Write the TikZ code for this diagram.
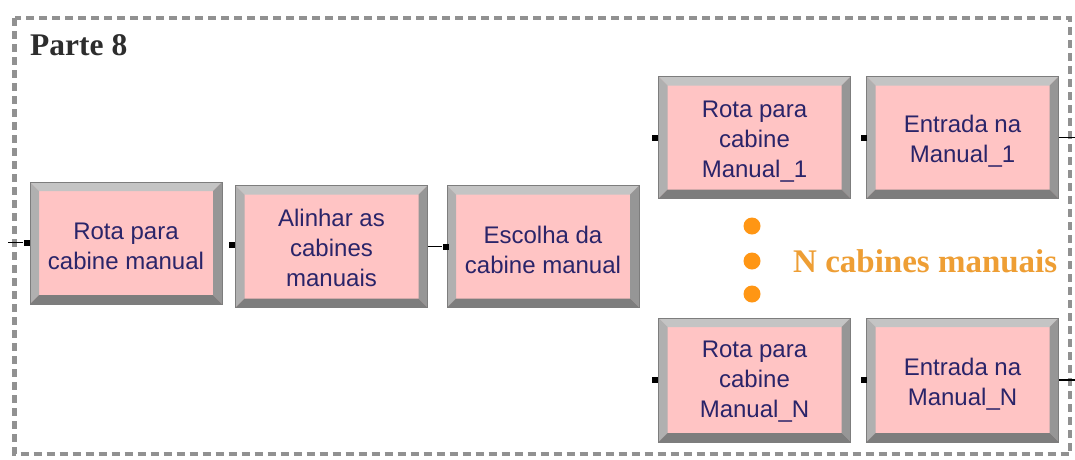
\documentclass[tikz,border=0pt]{standalone}
\usepackage{fontspec}
\setmainfont{Liberation Sans}
\newfontfamily\serifbold{Liberation Serif}
\definecolor{boxpink}{RGB}{255,196,196}
\definecolor{bevtop}{RGB}{196,196,196}
\definecolor{bevleft}{RGB}{176,176,176}
\definecolor{bevright}{RGB}{150,150,150}
\definecolor{bevbot}{RGB}{125,125,125}
\definecolor{txtblue}{RGB}{42,36,105}
\definecolor{framegray}{RGB}{145,145,145}
\definecolor{dotorange}{RGB}{255,150,20}
\definecolor{txtorange}{RGB}{238,158,52}
\definecolor{titlegray}{RGB}{45,45,45}
\tikzset{
  abox/.style={minimum width=192pt, minimum height=122pt, inner sep=0pt,
    fill=boxpink, draw=bevbot, line width=0.6pt},
  bevel/.style={path picture={
      \fill[bevtop] (path picture bounding box.north west) -- (path picture bounding box.north east)
        -- ([xshift=-9pt,yshift=-9pt]path picture bounding box.north east)
        -- ([xshift=9pt,yshift=-9pt]path picture bounding box.north west) -- cycle;
      \fill[bevleft] (path picture bounding box.north west) -- (path picture bounding box.south west)
        -- ([xshift=9pt,yshift=9pt]path picture bounding box.south west)
        -- ([xshift=9pt,yshift=-9pt]path picture bounding box.north west) -- cycle;
      \fill[bevright] (path picture bounding box.north east) -- (path picture bounding box.south east)
        -- ([xshift=-9pt,yshift=9pt]path picture bounding box.south east)
        -- ([xshift=-9pt,yshift=-9pt]path picture bounding box.north east) -- cycle;
      \fill[bevbot] (path picture bounding box.south west) -- (path picture bounding box.south east)
        -- ([xshift=-9pt,yshift=9pt]path picture bounding box.south east)
        -- ([xshift=9pt,yshift=9pt]path picture bounding box.south west) -- cycle;
    }},
  btext/.style={align=center, text=txtblue, inner sep=0pt,
    font=\fontsize{24}{30}\selectfont},
  port/.style={fill=black, minimum size=6pt, inner sep=0pt},
  link/.style={draw=black, line width=1.8pt},
  dotmark/.style={circle, fill=dotorange, minimum size=17pt, inner sep=0pt}
}
\begin{document}
\begin{tikzpicture}[x=1pt,y=-1pt]
\useasboundingbox (0,0) rectangle (1075,459);
\fill[white] (0,0) rectangle (1075,459);
% frame
\draw[framegray, line width=4.5pt, dash pattern=on 8pt off 5pt] (14.5,18) rectangle (1070,454);
\node[anchor=base west, font=\serifbold\bfseries\fontsize{31.5}{36}\selectfont, text=titlegray, inner sep=0pt] (title) at (30,55) {Parte 8};
% boxes
\node[abox, bevel] (b1) at (126,243) {};
\node[abox, bevel] (b2) at (331.5,246.5) {};
\node[abox, bevel] (b3) at (543,246.5) {};
\node[abox, bevel] (b4) at (754.5,137.5) {};
\node[abox, bevel] (b5) at (962.5,137.5) {};
\node[abox, bevel, minimum height=124pt] (b6) at (754.5,380) {};
\node[abox, bevel, minimum height=124pt] (b7) at (962.5,380) {};
% box texts
\node[btext] (t1) at ([yshift=-3pt]b1.center) {Rota para\\cabine manual};
\node[btext] (t2) at ([yshift=-1pt]b2.center) {Alinhar as\\cabines\\manuais};
\node[btext] (t3) at ([yshift=-3pt]b3.center) {Escolha da\\cabine manual};
\node[btext] (t4) at ([yshift=-4pt]b4.center) {Rota para\\cabine\\Manual\_1};
\node[btext] (t5) at ([yshift=-4pt]b5.center) {Entrada na\\Manual\_1};
\node[btext] (t6) at ([yshift=-2pt]b6.center) {Rota para\\cabine\\Manual\_N};
\node[btext] (t7) at ([yshift=-4pt]b7.center) {Entrada na\\Manual\_N};
% ports
\node[port] (p1) at (26.5,242.5) {};
\node[port] (p2) at (232,245) {};
\node[port] (p3) at (445.5,246.5) {};
\node[port] (p4) at (654.5,138) {};
\node[port] (p5) at (863.5,138) {};
\node[port] (p6) at (654.5,380) {};
\node[port] (p7) at (863.5,380) {};
\coordinate (in1) at (8,242.5);
\coordinate (out1) at (1075,137.5);
\coordinate (outN) at (1075,380);
\draw[link] (in1) -- (p1);
\draw[link] (b2.east) -- (p3);
\draw[link] (b5.east) -- (out1);
\draw[link] (b7.east) -- (outN);
% dots and label
\node[dotmark] (d1) at (752,226) {};
\node[dotmark] (d2) at (752,261) {};
\node[dotmark] (d3) at (752,294) {};
\node[anchor=base west, font=\serifbold\bfseries\fontsize{33}{38}\selectfont, text=txtorange, inner sep=0pt] (ncab) at (793,272) {N cabines manuais};
\end{tikzpicture}
\end{document}
